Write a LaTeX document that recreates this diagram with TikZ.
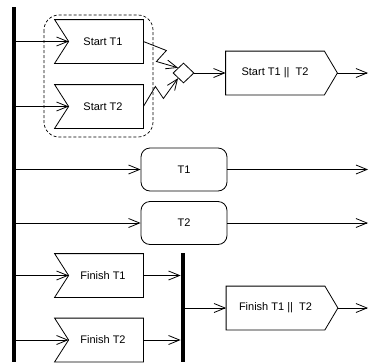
\documentclass[tikz,border=0pt]{standalone}
\usepackage{fontspec}
\setmainfont{Liberation Sans}
\usetikzlibrary{arrows.meta,shapes.geometric}
\begin{document}
\begin{tikzpicture}[x=1pt,y=-1pt,
  line width=0.8pt,
  >={Straight Barb[length=11pt,width=9pt]},
  every node/.style={font=\fontsize{11}{13}\selectfont, inner sep=0pt},
  recvbox/.style={minimum width=88pt, minimum height=43pt},
  sendbox/.style={minimum width=111pt, minimum height=43pt},
  actbox/.style={draw, rounded corners=9pt, minimum width=86pt, minimum height=43pt},
  syncbar/.style={fill=black, minimum width=4pt},
  mergebox/.style={draw, diamond, minimum width=21pt, minimum height=20pt},
  groupbox/.style={draw, dashed, dash pattern=on 3pt off 2pt, rounded corners=15pt, line width=0.7pt}
]
\useasboundingbox (0,0) rectangle (369,362);
\fill[white] (0,0) rectangle (369,362);

% synchronisation bars
\node[syncbar, minimum height=355pt] (bar) at (13.5,184.5) {};
\node[syncbar, minimum height=109pt] (bar2) at (183,307.5) {};

% grouping frame around the start signals
\draw[groupbox] (44,15) rectangle (153,137);

% receive-signal boxes (text nudged right of the notch)
\node[recvbox] (s1) at (99,41.5) {\hspace*{8pt}Start T1};
\node[recvbox] (s2) at (99,106.5) {\hspace*{8pt}Start T2};
\node[recvbox] (f1) at (99,275.5) {\hspace*{8pt}Finish T1};
\node[recvbox] (f2) at (99,340) {\hspace*{8pt}Finish T2};
\foreach \n in {s1,s2,f1,f2}
  \draw (\n.north west) -- (\n.north east) -- (\n.south east) -- (\n.south west)
        -- ([xshift=14pt]\n.west) -- cycle;

% send-signal boxes
\node[sendbox] (sp) at (281.5,73) {Start T1 ||\ \ T2\hspace*{13pt}};
\node[sendbox] (fp) at (282,308) {Finish T1 ||\ \ T2\hspace*{13pt}};
\foreach \n in {sp,fp}
  \draw (\n.north west) -- ([xshift=-13pt]\n.north east) -- (\n.east)
        -- ([xshift=-13pt]\n.south east) -- (\n.south west) -- cycle;

% activities
\node[actbox] (t1) at (184,169.5) {T1};
\node[actbox] (t2) at (184,223) {T2};

% merge of the two start signals
\node[mergebox] (dm) at (183.5,73) {};

% free ends at the right border
\coordinate (o1) at (368,73);
\coordinate (o2) at (368,169.5);
\coordinate (o3) at (368,223);
\coordinate (o4) at (368,308);

% connectors from the left bar
\draw[->] (bar.east |- s1.west) -- ([xshift=14pt]s1.west);
\draw[->] (bar.east |- s2.west) -- ([xshift=14pt]s2.west);
\draw[->] (bar.east |- t1.west) -- (t1.west);
\draw[->] (bar.east |- t2.west) -- (t2.west);
\draw[->] (bar.east |- f1.west) -- ([xshift=14pt]f1.west);
\draw[->] (bar.east |- f2.west) -- ([xshift=14pt]f2.west);

% interrupting (zigzag) flows into the merge
\draw[->] (s1.east) -- ++(23,9) -- ++(-10,11) -- (dm.north west);
\draw[->] (s2.east) -- ++(12,-20) -- ++(8,12) -- (dm.south west);
\draw[->] (dm.east) -- (sp.west);
\draw[->] (sp.east) -- (o1);

% activity outputs
\draw[->] (t1.east) -- (o2);
\draw[->] (t2.east) -- (o3);

% finish signals joined at the second bar
\draw[->] (f1.east) -- (bar2.west |- f1.east);
\draw[->] (f2.east) -- (bar2.west |- f2.east);
\draw[->] (bar2.east |- fp.west) -- (fp.west);
\draw[->] (fp.east) -- (o4);
\end{tikzpicture}
\end{document}
